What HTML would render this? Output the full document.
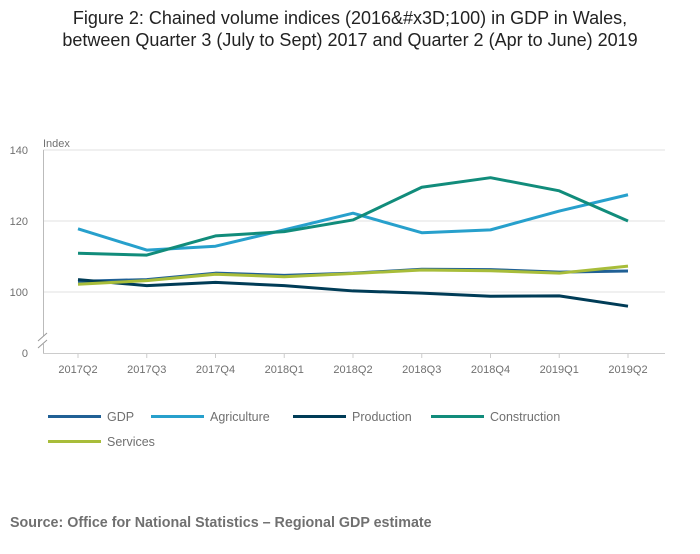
<!DOCTYPE html>
<html><head><meta charset="utf-8"><style>
body{margin:0;background:#fff;width:700px;height:549px;overflow:hidden;font-family:"Liberation Sans",sans-serif}
</style></head><body>
<svg width="700" height="549" xmlns="http://www.w3.org/2000/svg" font-family="Liberation Sans, sans-serif">
<text x="350" y="24" text-anchor="middle" font-size="18" fill="#222">Figure 2: Chained volume indices (2016&amp;#x3D;100) in GDP in Wales,</text>
<text x="350" y="46" text-anchor="middle" font-size="18" fill="#222">between Quarter 3 (July to Sept) 2017 and Quarter 2 (Apr to June) 2019</text>
<g id="grid"></g>
<g id="axes"></g>
<g id="series"></g>
<g id="legend"></g>
<text x="10" y="527" font-size="14.3" font-weight="bold" fill="#707070">Source: Office for National Statistics – Regional GDP estimate</text>
</svg>
<script>
const categories=["2017Q2","2017Q3","2017Q4","2018Q1","2018Q2","2018Q3","2018Q4","2019Q1","2019Q2"];
const yTicks=[100,120,140];
const gdp=[103.0,103.5,105.3,104.7,105.3,106.4,106.3,105.6,105.9];
const agriculture=[117.8,111.8,112.9,117.5,122.2,116.7,117.5,122.8,127.4];
const production=[103.5,101.8,102.7,101.8,100.3,99.7,98.8,98.9,96.0];
const construction=[110.9,110.4,115.8,117.0,120.3,129.5,132.2,128.5,120.0];
const services=[102.2,103.2,105.0,104.3,105.2,106.2,106.0,105.3,107.3];
const seriesNames=["GDP","Agriculture","Production","Construction","Services"];
const NS="http://www.w3.org/2000/svg";
function x(i){return 78+i*(628-78)/(categories.length-1);}
function y(v){return 292-(v-100)*71/20;}
function mk(tag,attrs,parent){const e=document.createElementNS(NS,tag);for(const k in attrs)e.setAttribute(k,attrs[k]);parent.appendChild(e);return e;}
const grid=document.getElementById('grid'),axes=document.getElementById('axes'),ser=document.getElementById('series'),leg=document.getElementById('legend');
yTicks.forEach(t=>{
 const l=mk('line',{x1:43,x2:665,y1:y(t),y2:y(t),stroke:'#e0e0e0','stroke-width':1},grid);
 
 
 const tx=mk('text',{x:28,y:y(t)+4,'text-anchor':'end','font-size':11,fill:'#707070'},axes);tx.textContent=t;
 
 
});
let z=mk('text',{x:28,y:357,'text-anchor':'end','font-size':11,fill:'#707070'},axes);z.textContent='0';


let yi=mk('text',{x:43,y:147,'font-size':11,fill:'#707070'},axes);yi.textContent='Index';


mk('path',{d:'M43.5 150 V336 M43.5 344 V353',stroke:'#bbb',fill:'none'},axes);
mk('path',{d:'M38 341 L47 333 M38 348 L47 340',stroke:'#999',fill:'none'},axes);
mk('line',{x1:43,x2:665,y1:353.5,y2:353.5,stroke:'#ccc'},axes);
categories.forEach((c,i)=>{
 mk('line',{x1:x(i),x2:x(i),y1:353,y2:358,stroke:'#ccc'},axes);
 const t=mk('text',{x:x(i),y:373,'text-anchor':'middle','font-size':11,fill:'#707070'},axes);t.textContent=c;
 
 
});
const colors=["#206095","#27a0cc","#003c57","#118c7b","#a8bd3a"];
const data=[gdp,agriculture,production,construction,services];
const order=[1,3,0,2,4];
order.forEach(k=>{
 const p=mk('path',{d:data[k].map((v,i)=>(i?'L':'M')+x(i)+' '+y(v)).join(' '),stroke:colors[k],'stroke-width':3,fill:'none','stroke-linejoin':'round'},ser);
 
 
});
const lp=[[48,416.5],[151,416.5],[293,416.5],[431,416.5],[48,441.5]];
seriesNames.forEach((n,k)=>{
 const g=mk('g',{},leg);
 
 
 mk('line',{x1:lp[k][0],x2:lp[k][0]+53,y1:lp[k][1],y2:lp[k][1],stroke:colors[k],'stroke-width':3},g);
 const t=mk('text',{x:lp[k][0]+59,y:lp[k][1]+4.5,'font-size':12.5,fill:'#707070'},g);t.textContent=n;
});
</script>
</body></html>
